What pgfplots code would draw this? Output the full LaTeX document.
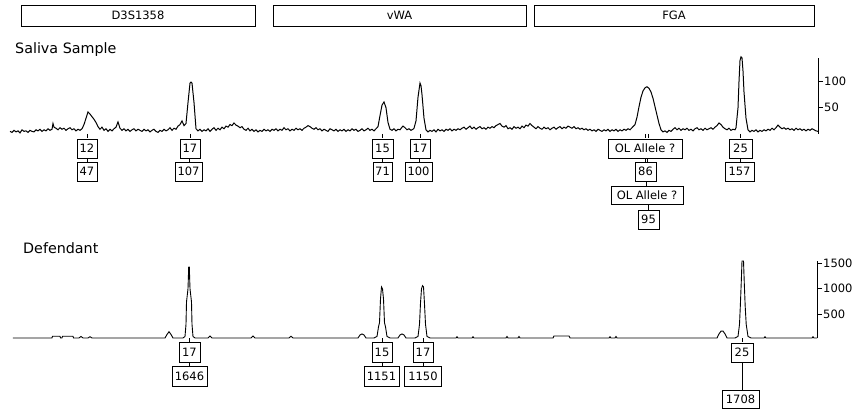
\documentclass[border=0pt]{standalone}
\usepackage{pgfplots}
\pgfplotsset{compat=1.18}
\usepackage{fontspec}
\setmainfont{DejaVu Sans}
\newcommand\lab{\fontsize{11.5}{12}\selectfont}
\newcommand\ttl{\fontsize{14.3}{15}\selectfont}
\begin{document}
\begin{tikzpicture}[x=1pt,y=1pt]
\path[use as bounding box] (0,0) rectangle (857,410);
\pgfplotsset{
  egram/.style={
    scale only axis, clip=false,
    axis x line=none, axis y line=right,
    axis line style={-, line width=0.8pt},
    xtick=\empty,
    tick align=outside, major tick length=5pt,
    ytick style={line width=0.8pt, black},
    yticklabel style={font=\lab, inner sep=0.5pt, xshift=0.5pt},
    /pgf/number format/assume math mode=true,
    /pgf/number format/1000 sep={},
  }
}
% ---------------- Saliva Sample ----------------
\begin{axis}[egram, at={(10pt,276pt)}, anchor=south west,
  width=808pt, height=76.1pt, xmin=10, xmax=818, ymin=0, ymax=145,
  ytick={50,100}]
\addplot[black, line width=1pt] coordinates {
(10,5) (12,3) (14,7) (16,4) (18,6) (20,2) (22,8) (24,5) (26,6) (28,3) (30,7) (32,5) (34,4) (36,8) (38,6) (40,9) (42,5) (44,8) (46,6) (48,10) (50,7) (52,9) (53,20) (54,13) (56,11) (58,8) (60,12) (62,9) (64,11) (66,7) (68,10) (70,12) (72,8) (74,10) (76,6) (78,9) (80,7)
(82,10) (84,18) (86,30) (88,42) (90,38) (92,33) (94,28) (96,22) (98,14)
(100,9) (102,13) (104,7) (106,10) (108,5) (110,9) (112,6) (114,10) (116,13) (118,23) (120,11) (122,7) (124,10) (126,6) (128,9) (130,5) (132,8) (134,10) (136,6) (138,9) (140,7) (142,5) (144,9) (146,6) (148,8) (150,4) (152,7) (154,9) (156,5) (158,3) (160,7) (162,5) (164,9) (166,6) (168,8) (170,12) (172,7) (174,11) (176,9) (178,15) (180,18) (182,25) (184,16)
(186,20) (188,60) (190,97) (191,99) (192,97) (194,60)
(196,10) (198,6) (200,9) (202,5) (204,8) (206,6) (208,10) (210,5) (212,9) (214,12) (216,7) (218,11) (220,8) (222,13) (224,10) (226,15) (228,13) (230,18) (232,16) (234,21) (236,17) (238,15) (240,12) (242,14) (244,9) (246,7) (248,11) (250,6) (252,9) (254,5) (256,8) (258,4) (260,7) (262,5) (264,9) (266,6) (268,8) (270,5) (272,9) (274,7) (276,10) (278,6) (280,9) (282,7) (284,12) (286,8) (288,10) (290,6) (292,9) (294,7) (296,11) (298,8) (300,10) (302,7) (304,11) (306,13) (308,16) (310,14) (312,11) (314,9) (316,12) (318,8) (320,10) (322,6) (324,9) (326,7) (328,5) (330,10) (332,8) (334,6) (336,9) (338,5) (340,8) (342,6) (344,9) (346,5) (348,8) (350,6) (352,10) (354,7) (356,9) (358,5) (360,7) (362,10) (364,6) (366,8) (368,11) (370,7) (372,9) (374,6) (376,10)
(378,14) (380,35) (382,55) (384,61) (386,50) (388,22)
(390,9) (392,7) (394,10) (396,6) (398,9) (400,8) (402,13) (403,15) (405,12) (407,8) (409,10) (411,7) (413,9) (414,11)
(416,25) (418,70) (420,97) (421,92) (422,75) (424,30)
(426,8) (428,4) (430,7) (432,5) (434,8) (436,4) (438,9) (440,6) (442,8) (444,5) (446,9) (448,7) (450,10) (452,6) (454,9) (456,7) (458,10) (460,8) (462,11) (464,13) (466,9) (468,12) (470,15) (472,10) (474,13) (476,9) (478,12) (480,14) (482,10) (484,12) (486,9) (488,13) (490,11) (492,14) (494,12) (496,16) (498,18) (500,20) (502,15) (504,13) (506,16) (508,10) (510,12) (512,9) (514,14) (516,11) (518,13) (520,10) (522,15) (524,12) (526,17) (528,15) (530,20) (532,16) (534,13) (536,10) (538,14) (540,11) (542,9) (544,13) (546,10) (548,12) (550,8) (552,11) (554,13) (556,9) (558,12) (560,14) (562,10) (564,13) (566,11) (568,15) (570,13) (572,11) (574,14) (576,10) (578,12) (580,9) (582,11) (584,8) (586,10) (588,7) (590,9) (592,6) (594,8) (596,5) (598,9) (600,7) (602,5) (604,8) (606,6) (608,9) (610,5) (612,8) (614,6) (616,9) (618,5) (620,8) (622,6) (624,9) (626,7) (628,10) (630,8)
(632,12) (635,18) (637,32) (639,52) (641,70) (643,82) (645,88) (647,90) (649,87) (651,80) (653,68) (655,52) (657,36) (659,20)
(661,8) (663,4) (665,6) (667,3) (669,7) (671,5) (673,9) (675,12) (677,8) (679,11) (681,7) (683,10) (685,8) (687,11) (689,7) (691,9) (693,6) (695,10) (697,12) (699,8) (701,10) (703,7) (705,11) (707,8) (709,10) (711,12) (713,9) (715,13) (717,16) (719,21) (721,18) (723,13) (725,10) (727,8) (729,11) (731,7) (733,9) (735,8)
(736,12) (738,50) (739,100) (740,140) (741,147) (742,145) (743,120) (744,80) (746,30)
(748,8) (750,4) (752,7) (754,5) (756,8) (758,4) (760,7) (762,5) (764,8) (766,6) (768,9) (770,7) (772,11) (774,8) (776,12) (778,17) (780,13) (782,10) (784,12) (786,9) (788,11) (790,8) (792,10) (794,7) (796,11) (798,8) (800,10) (802,7) (804,9) (806,6) (808,9) (810,7) (812,10) (814,8) (816,6) (818,5)
};
\end{axis}
% ---------------- Defendant ----------------
\begin{axis}[egram, at={(13pt,72pt)}, anchor=south west,
  width=804pt, height=77.1pt, xmin=13, xmax=817, ymin=30, ymax=1550,
  ytick={500,1000,1500}]
\addplot[black, line width=0.9pt] coordinates {
(13,30) (52,30) (52.5,65) (60,65) (60.5,30) (62,30) (62.5,65) (73,65) (73.5,30) (79,30) (81,60) (83,30) (88,30) (90,55) (92,30)
(165,30) (167,100) (169,154) (171,100) (173,30)
(183,30) (185,60) (186,300) (186.5,740) (188,1000) (188.7,1430) (189.3,1430) (190,1000) (191.5,740) (192,300) (193,60) (195,30)
(208,30) (210,70) (212,30) (251,30) (253,70) (255,30) (289,30) (291,65) (293,30)
(358,30) (360,90) (362,110) (364,90) (366,30)
(374,30) (377,60) (378.5,250) (379.5,330) (380.5,800) (381.5,1036) (382.5,1000) (383.5,800) (384.5,330) (385.5,250) (387,60) (390,30)
(398,30) (400,90) (402,110) (404,90) (406,30)
(415,30) (418,60) (419.5,300) (420.5,720) (421.5,1000) (422.5,1062) (423.5,1040) (424.5,700) (425.5,300) (427,60) (430,30)
(456,30) (457,55) (458,30) (472,30) (473,55) (474,30) (506,30) (507,60) (508,30) (518,30) (519,60) (520,30)
(553,30) (554,70) (569,70) (570,30) (609,30) (610,55) (611,30) (615,30) (616,60) (617,30)
(717,30) (719,110) (721,165) (723,168) (725,110) (727,30)
(735,30) (738,60) (739.5,300) (740.3,650) (741.2,1100) (742,1549) (743.5,1549) (744.3,1100) (745.2,650) (746.2,300) (748,60) (751,30)
(764,30) (765,55) (766,30) (812,30) (813,55) (814,30) (817,30)
};
\end{axis}
% ---------------- locus boxes and titles ----------------
\tikzset{lb/.style={draw, line width=0.8pt, inner sep=0pt, font=\lab, text=black}}
\node[lb, minimum width=234pt, minimum height=21pt] at (138,394.5) {D3S1358};
\node[lb, minimum width=253pt, minimum height=21pt] at (399.5,394.5) {vWA};
\node[lb, minimum width=280pt, minimum height=21pt] at (674,394.5) {FGA};
\node[anchor=base west, inner sep=0pt, font=\ttl] at (15,356) {Saliva Sample};
\node[anchor=base west, inner sep=0pt, font=\ttl] at (23,156) {Defendant};
% ---------------- allele labels: Saliva ----------------
\begin{scope}[line width=0.8pt]
\draw (87,276) -- (87,271.5) (87,251.5) -- (87,247.5);
\draw (190,276) -- (190,271.5) (189,251.5) -- (189,247.5);
\draw (382.5,276) -- (382.5,271.5) (382.5,251.5) -- (382.5,247.5);
\draw (420,276) -- (420,271.5) (419,251.5) -- (419,247.5);
\draw (645,276) -- (645,271.5) (648,276) -- (648,271.5) (645,251.5) -- (645,247.5) (647,251.5) -- (647,247.5);
\draw (646,229) -- (646,223.5) (648,205.5) -- (648,200);
\draw (740.5,276) -- (740.5,271.5) (740,251.5) -- (740,247.5);
\end{scope}
\node[lb, minimum width=20pt, minimum height=19pt, fill=white] at (87,261.5) {12};
\node[lb, minimum width=20pt, minimum height=19pt, fill=white] at (87,238.5) {47};
\node[lb, minimum width=20pt, minimum height=19pt, fill=white] at (190,261.5) {17};
\node[lb, minimum width=27pt, minimum height=19pt, fill=white] at (188.5,238.5) {107};
\node[lb, minimum width=21pt, minimum height=19pt, fill=white] at (382.5,261.5) {15};
\node[lb, minimum width=19pt, minimum height=19pt, fill=white] at (382.5,238.5) {71};
\node[lb, minimum width=20pt, minimum height=19pt, fill=white] at (420,261.5) {17};
\node[lb, minimum width=27pt, minimum height=19pt, fill=white] at (418.5,238.5) {100};
\draw[line width=1.6pt] (432.4,229) -- (432.4,248);
\node[lb, minimum width=74pt, minimum height=19pt, fill=white] at (645,261.5) {OL Allele ?};
\node[lb, minimum width=21pt, minimum height=19pt, fill=white] at (645.5,238.5) {86};
\node[lb, minimum width=72pt, minimum height=18pt, fill=white] at (647,214.5) {OL Allele ?};
\node[lb, minimum width=21pt, minimum height=19pt, fill=white] at (648.5,190.5) {95};
\node[lb, minimum width=23pt, minimum height=19pt, fill=white] at (740.5,261.5) {25};
\node[lb, minimum width=29pt, minimum height=19pt, fill=white] at (739.5,238.5) {157};
% ---------------- allele labels: Defendant ----------------
\begin{scope}[line width=0.8pt]
\draw (189.5,72) -- (189.5,68) (189.5,48) -- (189.5,44);
\draw (382,72) -- (382,68) (382,48) -- (382,44);
\draw (423,72) -- (423,68) (423,48) -- (423,44);
\draw (742,72) -- (742,68) (742,48) -- (742,20);
\end{scope}
\node[lb, minimum width=21pt, minimum height=20pt, fill=white] at (189.5,58) {17};
\node[lb, minimum width=35pt, minimum height=20pt, fill=white] at (189.5,34) {1646};
\node[lb, minimum width=20pt, minimum height=20pt, fill=white] at (382,58) {15};
\node[lb, minimum width=35pt, minimum height=20pt, fill=white] at (381.5,34) {1151};
\node[lb, minimum width=20pt, minimum height=20pt, fill=white] at (423,58) {17};
\node[lb, minimum width=37pt, minimum height=20pt, fill=white] at (423,34) {1150};
\node[lb, minimum width=22pt, minimum height=19pt, fill=white] at (742,57.5) {25};
\node[lb, minimum width=37pt, minimum height=18pt, fill=white] at (740.5,11) {1708};
\draw[line width=1.6pt] (722.4,2) -- (722.4,20);
\end{tikzpicture}
\end{document}
